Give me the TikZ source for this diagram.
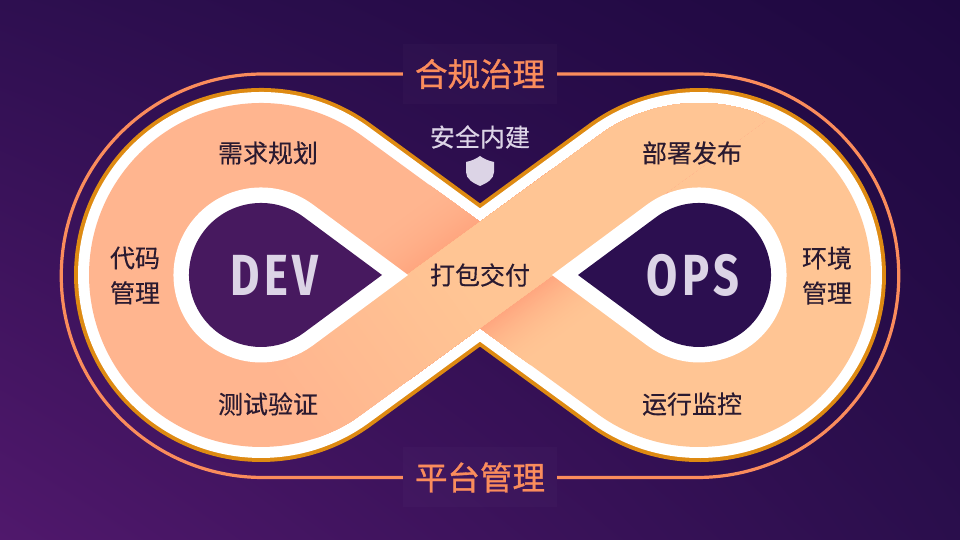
\documentclass[tikz,border=0pt]{standalone}
\usepackage{fontspec}
\usetikzlibrary{shadings}
\setmainfont{Liberation Sans}
\newfontfamily\cjk[FakeBold=0.3]{Noto Sans CJK SC}
\newfontfamily\cjkm[FakeBold=1.0]{Noto Sans CJK SC}
\newfontfamily\latcond[FakeStretch=0.78,LetterSpace=8]{Fira Sans}
\definecolor{leftpeach}{HTML}{FFB58F}
\definecolor{rightpeach}{HTML}{FFC594}
\definecolor{shadowpeach}{HTML}{FFA67F}
\definecolor{edgeorange}{HTML}{DE8A12}
\definecolor{framesalmon}{HTML}{FA8C5C}
\definecolor{lavender}{HTML}{DCD4E6}
\definecolor{inktext}{HTML}{2A1A30}
\definecolor{devfill}{HTML}{47195F}
\definecolor{opsfill}{HTML}{2C0F50}
\definecolor{bgul}{HTML}{2E0F50}
\definecolor{bgur}{HTML}{1E0840}
\definecolor{bgll}{HTML}{50186C}
\definecolor{bglr}{HTML}{2A0E4C}
\tikzset{
  body/.style={font=\cjk\fontsize{25}{25}\selectfont,text=inktext,inner sep=0pt,align=center},
  lightlabel/.style={font=\cjk\fontsize{25}{25}\selectfont,text=lavender,inner sep=0pt},
  titlepanel/.style={font=\cjkm\fontsize{32.5}{32.5}\selectfont,text=framesalmon,inner sep=0pt,
     minimum width=154pt,minimum height=60pt,fill=white,fill opacity=.018,text opacity=1},
  bigword/.style={font=\latcond\bfseries\fontsize{58}{58}\selectfont,text=lavender,inner sep=0pt},
  frameline/.style={draw=framesalmon,line width=3.2pt},
}
\newcommand{\bandshape}{(480,318) -- (362.6,403.8) arc[start angle=53.8,end angle=306.2,radius=172]
  -- (480,212) -- (597.4,126.2) arc[start angle=-126.2,end angle=126.2,radius=172] -- cycle}
\begin{document}
\begin{tikzpicture}[x=1pt,y=1pt]
\useasboundingbox (0,0) rectangle (960,540);
% background
\shade[upper left=bgul,upper right=bgur,lower left=bgll,lower right=bglr] (0,0) rectangle (960,540);
% outline layers
\draw[edgeorange,line width=30pt,miter limit=10] \bandshape;
\draw[white,line width=22pt,miter limit=10] \bandshape;
\begin{scope}
  \clip \bandshape;
  \fill[leftpeach] (0,0) rectangle (480,540);
  \fill[rightpeach] (480,0) rectangle (960,540);
  \begin{scope}[shift={(480,265)},rotate=36]
    % shadows under the crossing ribbon, painted far to near
    \foreach \i in {60,...,1}{
      \pgfmathsetmacro{\yy}{42.9+\i}
      \pgfmathsetmacro{\pp}{100*(1-\i/60)^2}
      \fill[shadowpeach!\pp!leftpeach] (-200,42.8) rectangle (120,\yy);
      \fill[shadowpeach!\pp!rightpeach] (-120,-42.8) rectangle (200,-\yy);
    }
    % the ribbon, painted from its left end inward
    \foreach \i in {0,...,60}{
      \pgfmathsetmacro{\xx}{-230+\i*3.5}
      \pgfmathsetmacro{\pp}{100*\i/60}
      \fill[rightpeach!\pp!leftpeach] (\xx,-42.9) rectangle (320,42.9);
    }
  \end{scope}
\end{scope}
% teardrops
\draw[white,line width=31pt,miter limit=10,fill=devfill]
  (382,265) -- (303.8,322.9) arc[start angle=53.5,end angle=306.5,radius=72] -- cycle;
\fill[devfill]
  (382,265) -- (303.8,322.9) arc[start angle=53.5,end angle=306.5,radius=72] -- cycle;
\draw[white,line width=31pt,miter limit=10,fill=opsfill]
  (578,265) -- (656.2,322.9) arc[start angle=126.5,end angle=-126.5,radius=72] -- cycle;
\fill[opsfill]
  (578,265) -- (656.2,322.9) arc[start angle=126.5,end angle=-126.5,radius=72] -- cycle;
% titles and frame
\node[titlepanel] (top) at (480,466) {合规治理};
\node[titlepanel] (bottom) at (480,62.5) {平台管理};
\draw[frameline] (top.west) -- (263,466) arc[start angle=90,end angle=270,radius=201.75] -- (bottom.west);
\draw[frameline] (top.east) -- (697,466) arc[start angle=90,end angle=-90,radius=201.75] -- (bottom.east);
% shield
\fill[lavender] (480,384) .. controls (476,381) and (471,379) .. (466,378)
  -- (466,368) .. controls (466,361) and (473,357) .. (480,354)
  .. controls (487,357) and (494,361) .. (494,368) -- (494,378)
  .. controls (489,379) and (484,381) .. (480,384) -- cycle;
% labels
\node[lightlabel] (secure) at (480,403) {安全内建};
\node[body] (plan) at (268,387) {需求规划};
\node[body] (deploy) at (692,387) {部署发布};
\node[body] (test) at (268,136) {测试验证};
\node[body] (run) at (692,136) {运行监控};
\node[body] (pack) at (480,265) {打包交付};
\node[body] (code) at (135,264.5) {代码\\[10pt]管理};
\node[body] (env) at (827,264.5) {环境\\[10pt]管理};
\node[bigword] (dev) at (274.5,265) {DEV};
\node[bigword] (ops) at (693,265) {OPS};
\end{tikzpicture}
\end{document}
